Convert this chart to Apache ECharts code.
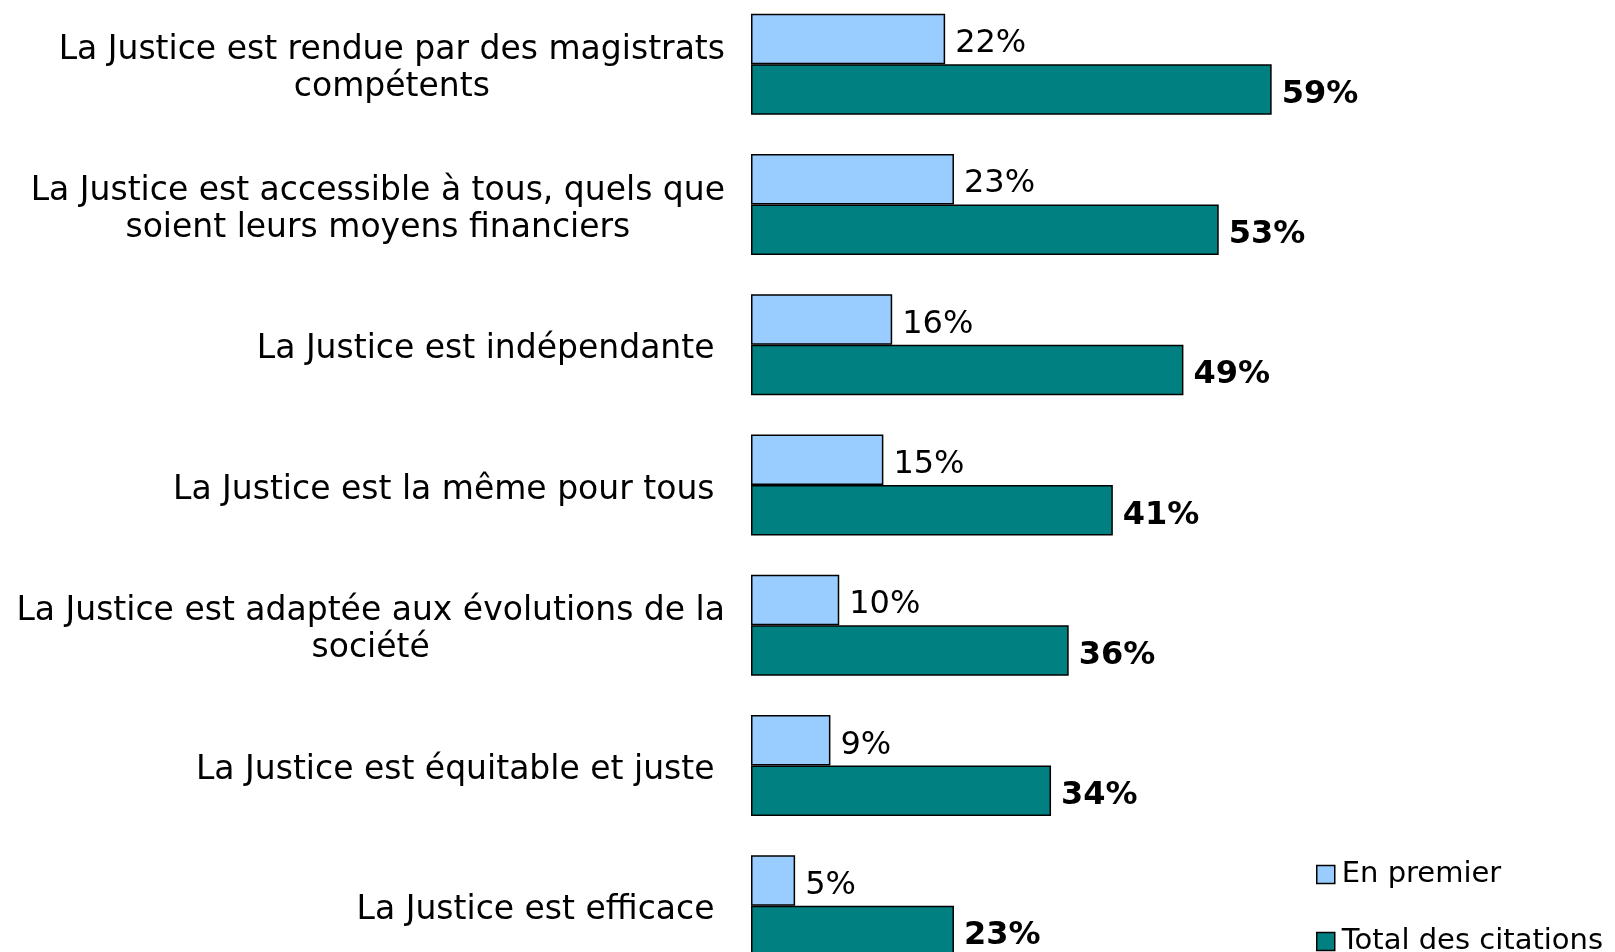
<!DOCTYPE html>
<html>
<head>
<meta charset="utf-8">
<script src="https://cdn.jsdelivr.net/npm/echarts@6/dist/echarts.min.js"></script>
<style>
  html, body { margin: 0; padding: 0; background: #fff; }
  #chart { width: 1615px; height: 952px; }
</style>
</head>
<body>
<div id="chart"></div>
<script>
// categories, top to bottom (trailing space kept on single-line labels)
const categories = [
  'La Justice est rendue par des magistrats\ncompétents',
  'La Justice est accessible à tous, quels que\nsoient leurs moyens financiers',
  'La Justice est indépendante ',
  'La Justice est la même pour tous ',
  'La Justice est adaptée aux évolutions de la\nsociété',
  'La Justice est équitable et juste ',
  'La Justice est efficace '
]
const seriesNames = ['En premier', 'Total des citations']
const enPremier = [22, 23, 16, 15, 10, 9, 5]
const totalCitations = [59, 53, 49, 41, 36, 34, 23]

const font = 'DejaVu Sans'
const chart = echarts.init(document.getElementById('chart'))

const option = {
  animation: false,
  backgroundColor: '#fff',
  grid: {
    left: 751,
    top: -6,
    width: 706,
    height: 982,
    outerBoundsMode: 'none'
  },
  legend: {
    orient: 'vertical',
    left: 1311,
    top: 855,
    height: 200,
    itemWidth: 18,
    itemHeight: 18,
    itemGap: 38,
    icon: 'rect',
    itemStyle: { borderColor: '#000', borderWidth: 1.5 },
    textStyle: { fontFamily: font, fontSize: 29, color: '#000', padding: [0, 0, 0, 2] },
    data: seriesNames
  },
  xAxis: {
    type: 'value',
    min: 0,
    max: 80,
    show: false
  },
  yAxis: {
    type: 'category',
    inverse: true,
    data: categories,
    axisLine: { show: false },
    axisTick: { show: false },
    axisLabel: {
      interval: 0,
      margin: 26,
      align: 'right',
      padding: [10, 0, 0, 0],
      // centre each line inside the label block
      formatter: v => v.split('\n').map(l => '{c|' + l + '}').join('\n'),
      rich: {
        c: { align: 'center', fontFamily: font, fontSize: 33, lineHeight: 37, color: '#000' }
      }
    }
  },
  series: [
    {
      name: seriesNames[0],
      type: 'bar',
      data: enPremier,
      barGap: '0%',
      barCategoryGap: '28%',
      itemStyle: { color: '#99CCFF', borderColor: '#000', borderWidth: 1.5 },
      label: {
        show: true,
        position: 'right',
        distance: 10,
        offset: [0, 5],
        formatter: '{c}%',
        fontFamily: font,
        fontSize: 32,
        color: '#000'
      }
    },
    {
      name: seriesNames[1],
      type: 'bar',
      data: totalCitations,
      barGap: '0%',
      barCategoryGap: '28%',
      itemStyle: { color: '#008080', borderColor: '#000', borderWidth: 1.5 },
      label: {
        show: true,
        position: 'right',
        distance: 10,
        offset: [0, 5],
        formatter: '{c}%',
        fontFamily: font,
        fontSize: 32,
        fontWeight: 'bold',
        color: '#000'
      }
    }
  ]
}

chart.setOption(option)
</script>
</body>
</html>
